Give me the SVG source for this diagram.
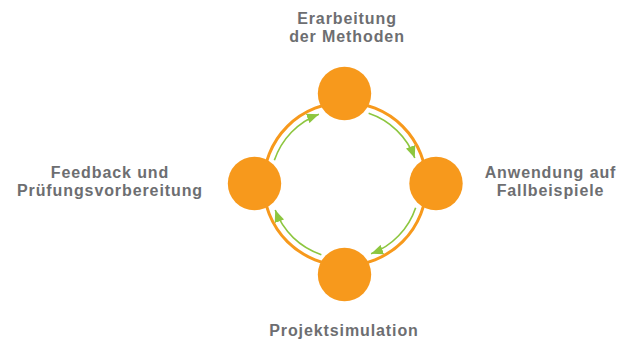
<svg xmlns="http://www.w3.org/2000/svg" width="618" height="340" viewBox="0 0 618 340">
  <style>
    .node { fill: #f7991c; }
    .ring { fill: none; stroke: #f7991c; stroke-width: 3; }
    .arc { fill: none; stroke: #8dc63f; stroke-width: 1.6; }
    .lbl { font-family: "Liberation Sans", Arial, sans-serif; font-weight: bold; font-size: 16px; fill: #6d6e71; text-anchor: middle; letter-spacing: 0.9px; }
  </style>
  <defs>
    <marker id="ah" markerUnits="userSpaceOnUse" markerWidth="13" markerHeight="10" refX="12" refY="5" orient="auto">
      <path d="M0,0 L12,5 L0,10 z" fill="#8dc63f"/>
    </marker>
  </defs>
  <rect width="618" height="340" fill="#ffffff"/>
  <circle class="ring" cx="345" cy="184" r="81.5"/>
  <g id="connectors">
    <path class="arc" marker-end="url(#ah)" d="M274.35,160.36 A74.5,74.5 0 0 1 318.91,114.22"/>
    <path class="arc" marker-end="url(#ah)" d="M368.64,113.35 A74.5,74.5 0 0 1 414.78,157.91"/>
    <path class="arc" marker-end="url(#ah)" d="M415.65,207.64 A74.5,74.5 0 0 1 371.09,253.78"/>
    <path class="arc" marker-end="url(#ah)" d="M321.36,254.65 A74.5,74.5 0 0 1 275.22,210.09"/>
  </g>
  <g id="node-top">
    <circle class="node" cx="344.5" cy="93.5" r="26.7"/>
    <text class="lbl" x="347" y="24">Erarbeitung</text>
    <text class="lbl" x="347" y="42">der Methoden</text>
  </g>
  <g id="node-right">
    <circle class="node" cx="436" cy="183.5" r="26.7"/>
    <text class="lbl" x="550.5" y="177.5">Anwendung auf</text>
    <text class="lbl" x="550.5" y="195.5">Fallbeispiele</text>
  </g>
  <g id="node-bottom">
    <circle class="node" cx="344.5" cy="274.5" r="26.7"/>
    <text class="lbl" x="344" y="336">Projektsimulation</text>
  </g>
  <g id="node-left">
    <circle class="node" cx="254.5" cy="183.5" r="26.7"/>
    <text class="lbl" x="110" y="177.5">Feedback und</text>
    <text class="lbl" x="110" y="195.5">Prüfungsvorbereitung</text>
  </g>
</svg>
